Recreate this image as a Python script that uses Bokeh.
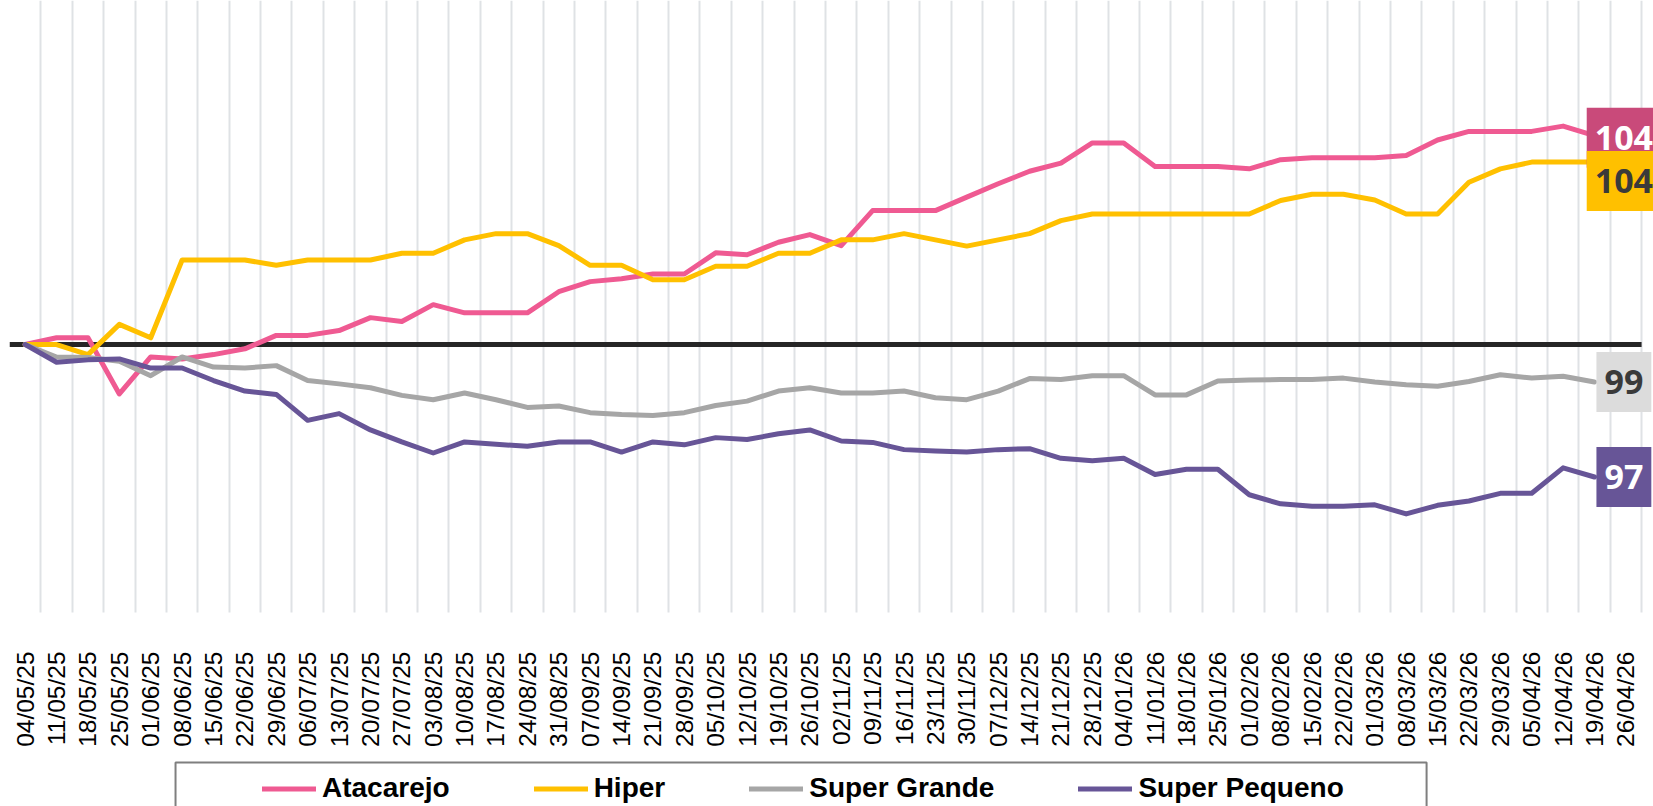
from bokeh.plotting import figure
from bokeh.models import (Range1d, FixedTicker, Label, Legend, LegendItem, BoxAnnotation)
from bokeh.embed import file_html
from bokeh.resources import INLINE

dates = ["04/05/25", "11/05/25", "18/05/25", "25/05/25", "01/06/25", "08/06/25", "15/06/25",
         "22/06/25", "29/06/25", "06/07/25", "13/07/25", "20/07/25", "27/07/25", "03/08/25",
         "10/08/25", "17/08/25", "24/08/25", "31/08/25", "07/09/25", "14/09/25", "21/09/25",
         "28/09/25", "05/10/25", "12/10/25", "19/10/25", "26/10/25", "02/11/25", "09/11/25",
         "16/11/25", "23/11/25", "30/11/25", "07/12/25", "14/12/25", "21/12/25", "28/12/25",
         "04/01/26", "11/01/26", "18/01/26", "25/01/26", "01/02/26", "08/02/26", "15/02/26",
         "22/02/26", "01/03/26", "08/03/26", "15/03/26", "22/03/26", "29/03/26", "05/04/26",
         "12/04/26", "19/04/26", "26/04/26"]

atacarejo = [100.0, 100.14, 100.14, 98.97, 99.74, 99.70, 99.79, 99.91, 100.19, 100.19,
             100.29, 100.56, 100.48, 100.83, 100.66, 100.66, 100.66, 101.10, 101.31, 101.37,
             101.47, 101.47, 101.91, 101.87, 102.13, 102.29, 102.06, 102.79, 102.79, 102.79,
             103.07, 103.35, 103.61, 103.78, 104.20, 104.20, 103.71, 103.71, 103.71, 103.66,
             103.85, 103.89, 103.89, 103.89, 103.94, 104.26, 104.44, 104.44, 104.44, 104.55,
             104.35]
hiper = [100.0, 100.0, 99.79, 100.42, 100.14, 101.76, 101.76, 101.76, 101.65, 101.76,
         101.76, 101.76, 101.90, 101.90, 102.18, 102.31, 102.31, 102.06, 101.65, 101.65,
         101.35, 101.35, 101.63, 101.63, 101.90, 101.90, 102.18, 102.18, 102.31, 102.18,
         102.05, 102.18, 102.31, 102.58, 102.72, 102.72, 102.72, 102.72, 102.72, 102.72,
         103.00, 103.13, 103.13, 103.01, 102.72, 102.72, 103.38, 103.66, 103.80, 103.80,
         103.80]
super_grande = [100.0, 99.74, 99.73, 99.65, 99.35, 99.74, 99.53, 99.51, 99.56, 99.25,
                99.18, 99.10, 98.94, 98.85, 98.99, 98.85, 98.69, 98.72, 98.58, 98.54,
                98.52, 98.58, 98.73, 98.82, 99.03, 99.10, 98.99, 98.99, 99.03, 98.89,
                98.85, 99.03, 99.29, 99.27, 99.35, 99.35, 98.95, 98.95, 99.24, 99.26,
                99.27, 99.27, 99.30, 99.22, 99.16, 99.13, 99.23, 99.37, 99.30, 99.34,
                99.22]
super_pequeno = [100.0, 99.63, 99.68, 99.70, 99.51, 99.51, 99.25, 99.03, 98.96, 98.42,
                 98.56, 98.22, 97.97, 97.74, 97.97, 97.92, 97.88, 97.97, 97.97, 97.76,
                 97.97, 97.91, 98.06, 98.02, 98.14, 98.22, 97.99, 97.96, 97.81, 97.78,
                 97.76, 97.81, 97.83, 97.63, 97.58, 97.63, 97.29, 97.40, 97.40, 96.87,
                 96.68, 96.63, 96.63, 96.66, 96.47, 96.65, 96.74, 96.90, 96.90, 97.43,
                 97.24]

series_names = ["Atacarejo", "Hiper", "Super Grande", "Super Pequeno"]
series_values = [atacarejo, hiper, super_grande, super_pequeno]
line_colors = ["#EF5A92", "#FFC000", "#A6A6A6", "#675597"]
box_colors = ["#C94A7A", "#FFC000", "#DCDCDC", "#675597"]
box_text_colors = ["#FFFFFF", "#3A3A3A", "#3A3A3A", "#FFFFFF"]
box_y_offsets = [-2, -19, 0, 0]

n_cat = len(dates)
x_idx = list(range(n_cat))
base_value = 100

# value band where the gridlines are drawn; the frame continues below it so the tick
# labels and the legend share the same canvas
grid_bottom, grid_top, frame_bottom = 94.417, 107.167, 90.375

p = figure(width=1653, height=806, output_backend="svg", toolbar_location=None,
           x_range=Range1d(-0.5, n_cat - 0.12), y_range=Range1d(frame_bottom, grid_top),
           y_axis_location=None, min_border_left=9, min_border_right=0,
           min_border_top=0, min_border_bottom=0)
p.outline_line_color = None
p.background_fill_color = "white"
p.border_fill_color = "white"

p.xaxis.ticker = FixedTicker(ticks=x_idx)
p.xaxis.major_label_overrides = {i: d for i, d in enumerate(dates)}
p.xaxis.major_label_orientation = 1.5707963
p.xaxis.major_label_text_font = "Liberation Sans"
p.xaxis.major_label_text_font_size = "24.5px"
p.xaxis.major_label_text_color = "#000000"
p.xaxis.major_label_standoff = -155
p.xaxis.axis_line_color = None
p.xaxis.major_tick_line_color = None
p.xaxis.minor_tick_line_color = None
p.xaxis.major_tick_out = 0
p.xaxis.major_tick_in = 0

p.xgrid.ticker = FixedTicker(ticks=[i - 0.5 for i in range(n_cat + 1)])
p.xgrid.grid_line_color = "#DFE2E5"
p.xgrid.grid_line_width = 2
p.xgrid.cross_bounds = (grid_bottom, grid_top)
p.ygrid.grid_line_color = None

# base-100 reference line across the category band
p.segment(x0=[-0.5], x1=[n_cat - 0.5], y0=[base_value], y1=[base_value],
          line_color="#262626", line_width=5)

items = []
for name, vals, col in zip(series_names, series_values, line_colors):
    r = p.line(x_idx[:len(vals)], vals, line_color=col, line_width=5,
               line_join="round", line_cap="round")
    items.append(LegendItem(label=name, renderers=[r]))

for vals, bcol, tcol, yo in zip(series_values, box_colors, box_text_colors, box_y_offsets):
    p.add_layout(Label(x=len(vals), y=vals[-1], text=f"{vals[-1]:.0f}",
                       x_offset=-2, y_offset=yo,
                       text_font="Open Sans", text_font_style="bold", text_font_size="34px",
                       text_color=tcol, text_align="center", text_baseline="middle",
                       background_fill_color=bcol,
                       padding=dict(left=8, right=8, top=18, bottom=18)))

# legend frame (its lower edge runs past the bottom of the picture, as in the original)
p.add_layout(BoxAnnotation(left=4.79, right=44.65, top=91.29, bottom=frame_bottom - 2,
                           fill_alpha=0, line_color="#7F7F7F", line_alpha=1, line_width=2))

legend = Legend(items=items, orientation="horizontal", location=(253, 2),
                label_text_font="Liberation Sans", label_text_font_style="bold",
                label_text_font_size="28px", label_text_color="#000000",
                glyph_width=54, glyph_height=31, label_height=31,
                label_standoff=6, spacing=84, padding=0, margin=0,
                border_line_color=None, background_fill_alpha=0)
p.add_layout(legend, "center")

open("out.html", "w").write(file_html(p, INLINE))
